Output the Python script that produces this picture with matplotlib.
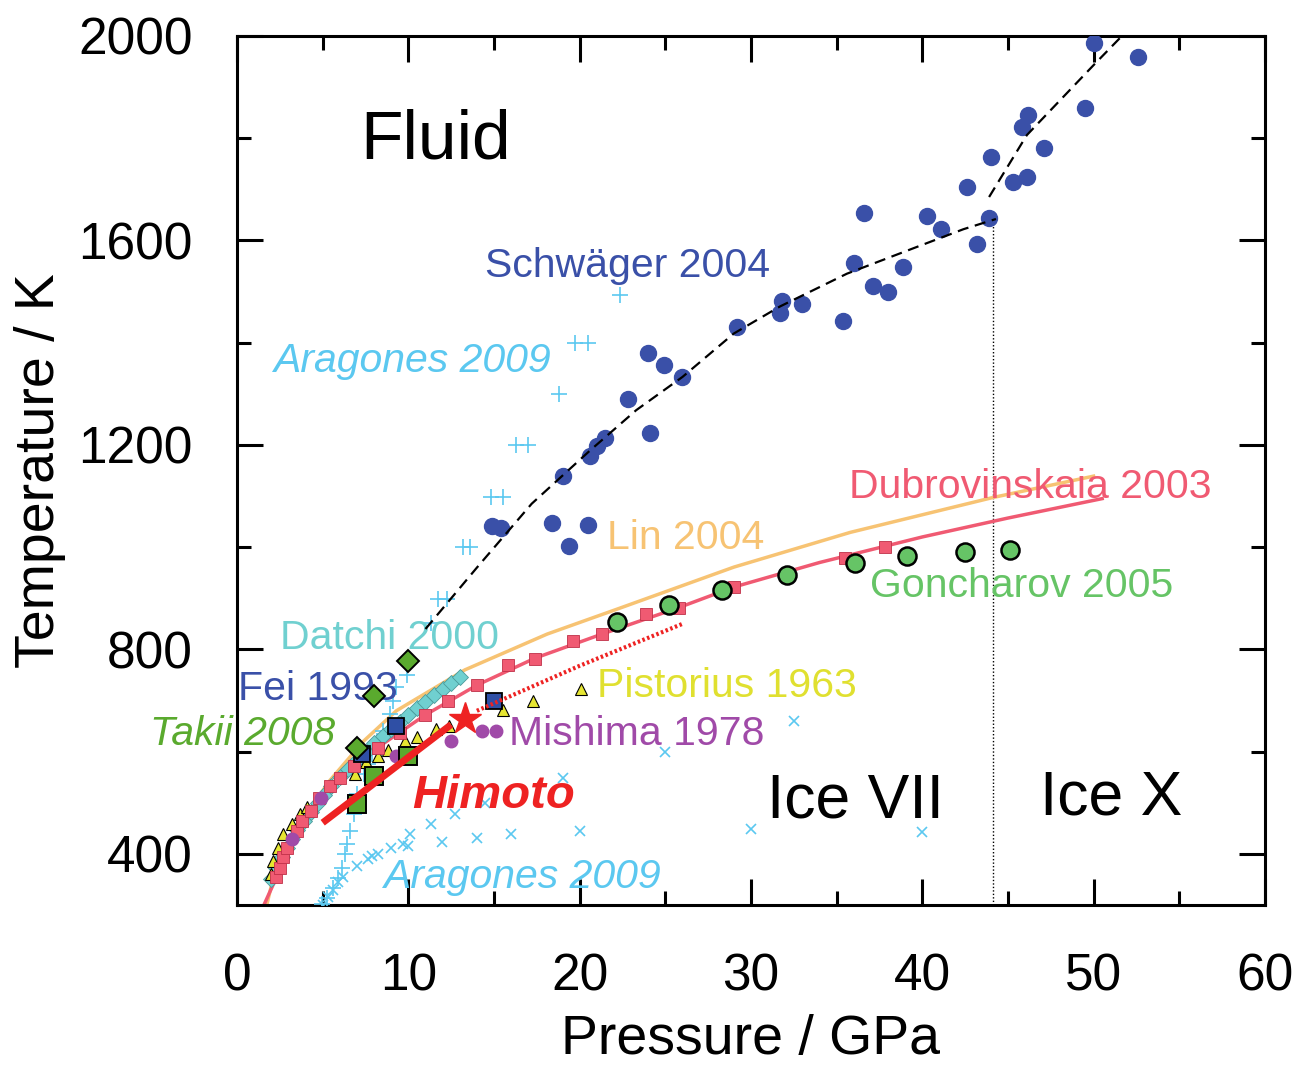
import matplotlib
matplotlib.use("Agg")
import matplotlib.pyplot as plt
from matplotlib.ticker import MultipleLocator

plt.rcParams['font.family'] = ['Liberation Sans', 'DejaVu Sans']

# Schwager 2004 (melting points)
schwager_P = [50.0, 52.6, 49.5, 46.2, 45.8, 47.1, 44.0, 46.1, 45.3, 42.6, 36.6, 40.3, 43.9,
              41.1, 43.2, 36.0, 38.9, 37.1, 38.0, 31.8, 33.0, 31.7, 35.4, 29.2, 24.0, 24.9,
              26.0, 22.8, 24.1, 21.5, 21.0, 20.6, 19.0, 18.4, 20.5, 19.4, 14.9, 15.4]
schwager_T = [1987, 1958, 1860, 1845, 1821, 1780, 1764, 1724, 1714, 1704, 1653, 1648, 1644,
              1623, 1594, 1556, 1548, 1511, 1499, 1481, 1476, 1458, 1442, 1431, 1380, 1356,
              1333, 1290, 1224, 1214, 1197, 1179, 1139, 1047, 1044, 1003, 1042, 1037]
fit_low_P = [11.0, 14.0, 17.2, 20.6, 23.3, 26.0, 29.0, 31.7, 35.6, 39.5, 42.4, 44.3]
fit_low_T = [840, 960, 1085, 1189, 1268, 1333, 1418, 1471, 1535, 1585, 1622, 1642]
fit_high_P = [43.9, 46.1, 50.0, 52.0]
fit_high_T = [1685, 1806, 1943, 2012]
boundary_P = [44.1, 44.1]
boundary_T = [300, 1640]

# Aragones 2009
arag_plus_P = [22.35, 19.7, 20.5, 18.8, 16.3, 17.0, 14.8, 15.5, 13.2, 13.6, 11.75, 12.25,
               11.3, 9.9, 9.3, 9.1, 8.9, 8.5, 8.15, 7.9, 7.65, 7.4, 7.0, 6.8, 6.6, 6.4,
               6.3, 6.1, 5.9, 5.6, 5.25, 4.95]
arag_plus_T = [1493, 1400, 1400, 1299, 1199, 1199, 1099, 1099, 1000, 1000, 899, 899,
               851, 749, 726, 700, 674, 641, 621, 596, 576, 557, 518, 478, 445, 420,
               400, 373, 353, 333, 314, 302]
arag_x_P = [32.5, 25.0, 19.05, 14.5, 12.75, 11.35, 10.1, 10.0, 11.95, 14.0, 16.0, 20.0,
            30.0, 40.0, 7.0, 7.65, 7.9, 8.2, 9.0, 9.7, 5.0, 5.3, 5.6, 5.9, 6.2]
arag_x_T = [660, 600, 549, 500, 478, 458, 439, 416, 424, 432, 439, 445,
            448, 443, 376, 390, 396, 400, 412, 420, 300, 315, 330, 345, 355]

# Lin 2004
lin_P = [1.7, 2.3, 3.5, 5.4, 7.4, 9.3, 13.3, 18.1, 22.2, 29.0, 35.8, 44.1, 50.0]
lin_T = [295, 380, 451, 543, 621, 680, 760, 830, 879, 961, 1029, 1097, 1139]

# Dubrovinskaia 2003
dub_line_P = [1.5, 2.3, 2.9, 3.8, 4.8, 6.0, 8.2, 11.0, 14.0, 17.4, 21.3, 25.8, 29.0, 34.0,
              40.0, 45.0, 50.5]
dub_line_T = [295, 354, 412, 464, 510, 549, 608, 672, 730, 783, 830, 882, 922, 970,
              1020, 1057, 1095]
dub_P = [2.3, 2.5, 2.7, 2.9, 3.5, 3.8, 4.3, 4.8, 5.4, 6.0, 6.8, 8.2, 9.5, 11.0, 12.3,
         14.0, 15.8, 17.4, 19.6, 21.3, 23.9, 25.8, 29.0, 35.5, 37.8]
dub_T = [354, 373, 393, 412, 445, 464, 484, 510, 533, 549, 572, 608, 636, 672, 700,
         731, 769, 782, 817, 830, 869, 882, 922, 978, 1001]

# Goncharov 2005
gon_P = [22.2, 25.2, 28.3, 32.1, 36.1, 39.1, 42.5, 45.1]
gon_T = [853, 886, 917, 946, 970, 982, 991, 995]

# Datchi 2000
datchi_P = [2.0, 2.3, 2.6, 2.9, 3.2, 3.5, 3.9, 4.3, 4.7, 5.1, 5.5, 6.0, 6.5, 7.0, 7.5,
            8.0, 8.5, 9.0, 9.5, 10.0, 10.5, 11.0, 11.5, 12.0, 12.5, 13.0]
datchi_T = [350, 373, 393, 412, 430, 446, 464, 482, 500, 516, 532, 550, 566, 584, 600,
            616, 630, 645, 659, 672, 685, 698, 710, 722, 734, 746]

# Fei 1993
fei_P = [7.3, 9.3, 15.0]
fei_T = [596, 651, 700]

# Takii 2008
takii_sq_P = [7.0, 8.0, 10.0]
takii_sq_T = [497, 553, 592]
takii_di_P = [7.0, 8.0, 10.0]
takii_di_T = [608, 708, 777]

# Mishima 1978
mish_P = [3.2, 4.9, 9.3, 12.5, 14.3, 15.1]
mish_T = [429, 510, 592, 621, 641, 641]

# Pistorius 1963
pist_P = [2.0, 2.1, 2.4, 2.7, 3.2, 3.7, 4.1, 6.9, 7.5, 8.2, 8.8, 9.8, 10.5, 11.6, 12.4,
          15.5, 17.3, 20.1]
pist_T = [360, 386, 412, 439, 458, 478, 491, 557, 579, 592, 604, 621, 628, 645, 651,
          681, 700, 722]

# Himoto
him_line_P = [5.0, 12.5]
him_line_T = [461, 653]
him_dot_P = [14.0, 20.0, 26.0]
him_dot_T = [680, 768, 850]
him_star_P = [13.3]
him_star_T = [664]

fig = plt.figure(figsize=(12.96, 10.68), dpi=100)
ax = fig.add_axes([0.1829, 0.1526, 0.7931, 0.8137])

# lines
ax.plot(lin_P, lin_T, color='#f7c373', lw=2.5, zorder=2)
ax.plot(dub_line_P, dub_line_T, color='#f05a72', lw=2.5, zorder=2)
ax.plot(fit_low_P, fit_low_T, color='black', lw=1.6, ls=(0, (5, 3)), zorder=4)
ax.plot(fit_high_P, fit_high_T, color='black', lw=1.6, ls=(0, (5, 3)), zorder=4)
ax.plot(boundary_P, boundary_T, color='black', lw=1.0, ls=(0, (1, 1.5)), zorder=1)

# Aragones
ax.plot(arag_plus_P, arag_plus_T, ls='none', marker='+', ms=12, mew=1.2,
        color='#5bc8f0', zorder=3)
ax.plot(arag_x_P, arag_x_T, ls='none', marker='x', ms=7, mew=1.2,
        color='#5bc8f0', zorder=3)

# Schwager
ax.plot(schwager_P, schwager_T, ls='none', marker='o', ms=11.5,
        color='#3a50a8', zorder=3)

# Datchi
ax.plot(datchi_P, datchi_T, ls='none', marker='D', ms=8, mfc='#70d0d0',
        mec='#4a9a9a', mew=0.6, zorder=3)

# Pistorius
ax.plot(pist_P, pist_T, ls='none', marker='^', ms=9, mfc='#e6e632',
        mec='black', mew=0.8, zorder=4)

# Dubrovinskaia squares
ax.plot(dub_P, dub_T, ls='none', marker='s', ms=8.5, mfc='#f05a72',
        mec='#c03048', mew=0.6, zorder=5)

# Mishima
ax.plot(mish_P, mish_T, ls='none', marker='o', ms=9, color='#a04aa8', zorder=5)

# Fei
ax.plot(fei_P, fei_T, ls='none', marker='s', ms=11, mfc='#2f4fa5',
        mec='black', mew=1.3, zorder=6)

# Takii
ax.plot(takii_sq_P, takii_sq_T, ls='none', marker='s', ms=12.5, mfc='#5aaa2e',
        mec='black', mew=1.4, zorder=6)
ax.plot(takii_di_P, takii_di_T, ls='none', marker='D', ms=11, mfc='#5aaa2e',
        mec='black', mew=1.4, zorder=6)

# Goncharov
ax.plot(gon_P, gon_T, ls='none', marker='o', ms=13, mfc='#66c466',
        mec='black', mew=1.8, zorder=6)

# Himoto
ax.plot(him_line_P, him_line_T, color='#ee2222', lw=5, solid_capstyle='butt', zorder=7)
ax.plot(him_dot_P, him_dot_T, color='#ee2222', lw=3, ls=(0, (0.6, 0.6)), zorder=7)
ax.plot(him_star_P, him_star_T, ls='none', marker='*', ms=24, color='#ee2222', zorder=8)

# text labels
fs = 29.5
ax.text(11.6, 1796, 'Fluid', fontsize=50, ha='center', va='center')
ax.text(22.8, 1550, 'Schwäger 2004', fontsize=fs, color='#3a50a8', ha='center', va='center')
ax.text(10.2, 1365, 'Aragones 2009', fontsize=fs, color='#5bc8f0', style='italic',
        ha='center', va='center')
ax.text(26.2, 1017, 'Lin 2004', fontsize=fs, color='#f7c373', ha='center', va='center')
ax.text(46.3, 1117, 'Dubrovinskaia 2003', fontsize=fs, color='#f05a72',
        ha='center', va='center')
ax.text(45.8, 925, 'Goncharov 2005', fontsize=fs, color='#66c466', ha='center', va='center')
ax.text(8.9, 823, 'Datchi 2000', fontsize=fs, color='#70d0d0', ha='center', va='center')
ax.text(4.7, 723, 'Fei 1993', fontsize=fs, color='#3a50a8', ha='center', va='center')
ax.text(0.3, 635, 'Takii 2008', fontsize=fs, color='#5aaa2e', style='italic',
        ha='center', va='center')
ax.text(21.0, 729, 'Pistorius 1963', fontsize=fs, color='#e0e030', ha='left', va='center')
ax.text(23.3, 635, 'Mishima 1978', fontsize=fs, color='#a04aa8', ha='center', va='center')
ax.text(14.95, 513, 'Himoto', fontsize=34, color='#ee2222', style='italic',
        weight='bold', ha='center', va='center')
ax.text(36.1, 504, 'Ice VII', fontsize=45, ha='center', va='center')
ax.text(51.0, 510, 'Ice X', fontsize=45, ha='center', va='center')
ax.text(16.6, 355, 'Aragones 2009', fontsize=fs, color='#5bc8f0', style='italic',
        ha='center', va='center')

ax.set_xlim(0, 60)
ax.set_ylim(300, 2000)
ax.xaxis.set_major_locator(MultipleLocator(10))
ax.xaxis.set_minor_locator(MultipleLocator(5))
ax.set_yticks([400, 800, 1200, 1600, 2000])
ax.yaxis.set_minor_locator(MultipleLocator(200))
ax.tick_params(which='both', direction='in', top=True, right=True, width=2.2)
ax.tick_params(which='major', length=19, labelsize=37)
ax.tick_params(axis='x', which='major', pad=34)
ax.tick_params(axis='y', which='major', pad=32)
ax.tick_params(which='minor', length=10)
for s in ax.spines.values():
    s.set_linewidth(2.2)
ax.set_xlabel('Pressure / GPa', fontsize=40, labelpad=9)
ax.set_ylabel('Temperature / K', fontsize=40, labelpad=9)

fig.savefig('out.png', dpi=100)
